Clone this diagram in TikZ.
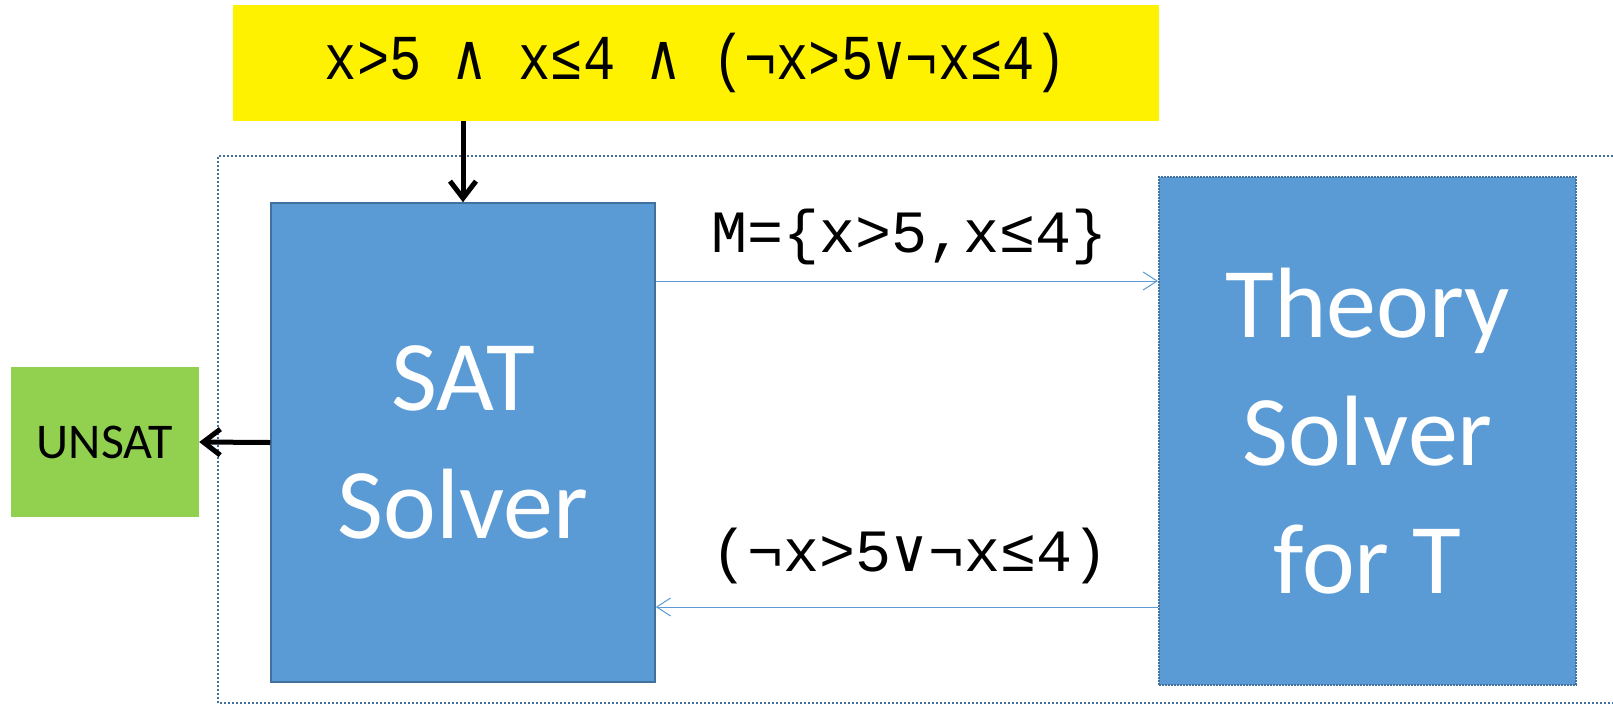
\documentclass[tikz,border=0pt]{standalone}
\usepackage{fontspec}
\setsansfont{Carlito}
\newfontfamily\monof{Liberation Mono}
\newfontfamily\symf{DejaVu Sans Mono}
\newfontfamily\monoy[FakeStretch=0.84]{Liberation Mono}
\newfontfamily\symy[FakeStretch=0.84]{DejaVu Sans Mono}
\usepackage{tikz}
\usetikzlibrary{arrows.meta,positioning}
\definecolor{boxblue}{HTML}{5B9BD5}
\definecolor{edgeblue}{HTML}{41719C}
\definecolor{unsatgreen}{HTML}{92D050}

\begin{document}
\begin{tikzpicture}[x=1pt,y=-1pt,
    solver/.style={draw=edgeblue,line width=1.5pt,fill=boxblue,text=white,
        font=\sffamily\fontsize{100}{128}\selectfont,align=center,inner sep=0pt},
    thick arrow/.style={line width=5pt,-{Straight Barb[length=17pt,width=26pt]}},
    thin arrow/.style={draw=boxblue,line width=1pt,-{Straight Barb[length=14pt,width=18pt]}},
    lbl/.style={font=\monof\fontsize{60}{64}\selectfont,inner sep=0pt}]

\useasboundingbox (0,0) rectangle (1613,705);

\draw[edgeblue,line width=1.5pt,dash pattern=on 2pt off 2pt] (1613,156) -- (218,156) -- (218,703) -- (1613,703);

\node[fill=yellow,minimum width=926pt,minimum height=116pt,inner sep=0pt,
    font=\monoy\fontsize{64}{70}\selectfont] (F) at (696,63)
    {x>5 {\symy ∧} x≤4 {\symy ∧} (¬x>5{\symy ∨}¬x≤4)};

\node[solver,minimum width=384pt,minimum height=479pt] (SAT) at (463,442.5) {SAT\\Solver};

\node[solver,line width=2pt,dash pattern=on 2pt off 1pt,minimum width=417pt,minimum height=508pt]
    (TH) at (1367.5,431) {Theory\\Solver\\for T};

\node[fill=unsatgreen,minimum width=188pt,minimum height=150pt,inner sep=0pt,
    font=\sffamily\fontsize{50}{60}\selectfont] (UN) at (105,442) {UNSAT};

\draw[thick arrow] (F.south -| SAT.north) -- (SAT.north);
\draw[thick arrow] (SAT.west) -- (UN.east);

\coordinate (MT) at ([yshift=161.5pt]SAT.east);
\coordinate (MB) at ([yshift=-164.5pt]SAT.east);

\draw[thin arrow] (MT) -- (MT -| TH.west);
\draw[thin arrow] (MB -| TH.west) -- (MB);

\node[lbl] (M) at (910,237) {M=\{x>5,x≤4\}};
\node[lbl] (C) at (910,556) {(¬x>5{\symf ∨}¬x≤4)};

\end{tikzpicture}
\end{document}
